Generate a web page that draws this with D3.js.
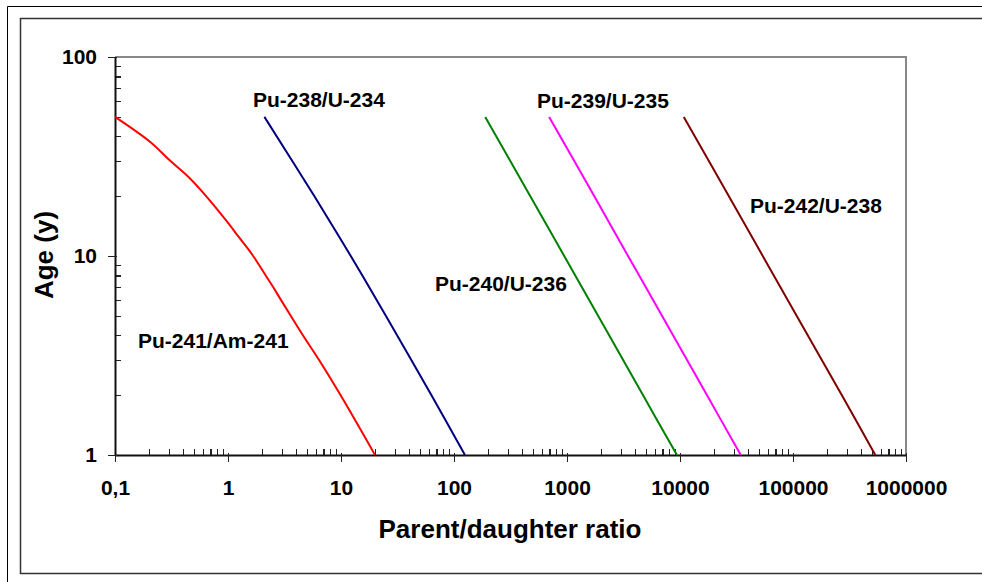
<!DOCTYPE html>
<meta charset="utf-8">
<head>
<style>
body { margin: 0; background: #fff; }
svg { display: block; }
text { font-family: "Liberation Sans", Arial, sans-serif; font-weight: bold; fill: #000; }
.tick text { font-size: 21px; }
.label { font-size: 21px; }
.title { font-size: 26px; }
.curve { fill: none; stroke-width: 2px; stroke-linejoin: round; }
.axis line { stroke: #222; stroke-width: 1.5px; shape-rendering: crispEdges; }
</style>
<script src="https://d3js.org/d3.v7.min.js"></script>
</head>
<body>
<div id="chart"></div>
<script>

// ages (y) for the four straight lines
var ages = [1, 2, 5, 10, 20, 50];
var pu238 = [125, 63, 25, 12.2, 5.8, 2.1];
var pu240 = [9400, 4700, 1890, 945, 472, 189];
var pu239 = [34500, 17300, 6950, 3470, 1740, 695];
var pu242 = [535000, 270000, 108000, 54000, 27000, 10800];

// Pu-241/Am-241 is curved, read point by point
var pu241Age = [1, 2, 3, 4, 5, 6, 7, 8, 10, 12.5, 15, 20, 25, 30, 37.5, 50];
var pu241Ratio = [20, 9.9, 6.4, 4.6, 3.6, 2.95, 2.5, 2.15, 1.67, 1.24, 0.97, 0.64, 0.445, 0.31, 0.204, 0.1];

var xTicks = [0.1, 1, 10, 100, 1000, 10000, 100000, 1000000];
var xTickLabels = ["0,1", "1", "10", "100", "1000", "10000", "100000", "1000000"];
var yTicks = [1, 10, 100];
var yTickLabels = ["1", "10", "100"];

var seriesNames = ["Pu-241/Am-241", "Pu-238/U-234", "Pu-240/U-236", "Pu-239/U-235", "Pu-242/U-238"];
var seriesColors = ["#ff0000", "#000080", "#008000", "#ff00ff", "#800000"];

var W = 982, H = 582;
var plot = {left: 115, right: 906, top: 57, bottom: 455};

var svg = d3.select("#chart").append("svg")
  .attr("width", W)
  .attr("height", H);

// outer frames (screenshot of a framed chart)
svg.append("path")
  .attr("d", "M7.5,582 V6.5 H982")
  .attr("fill", "none").attr("stroke", "#000").attr("stroke-width", 1);
svg.append("path")
  .attr("d", "M982,18.5 H20.5 V573.5 H982")
  .attr("fill", "none").attr("stroke", "#333").attr("stroke-width", 1.5);

var x = d3.scaleLog().domain([0.1, 1000000]).range([plot.left, plot.right]);
var y = d3.scaleLog().domain([1, 100]).range([plot.bottom, plot.top]);

// plot area top/right border
svg.append("path")
  .attr("d", "M" + plot.left + "," + plot.top + " H" + plot.right + " V" + plot.bottom)
  .attr("fill", "none").attr("stroke", "#888").attr("stroke-width", 2);

////Minor ticks (inside)
var xMinor = x.ticks().filter(function(d) { return xTicks.indexOf(d) < 0; });
var yMinor = y.ticks().filter(function(d) { return yTicks.indexOf(d) < 0; });

svg.append("g")
  .attr("class", "axis")
  .attr("transform", "translate(0," + plot.bottom + ")")
  .call(d3.axisBottom(x).tickValues(xMinor).tickSize(-6).tickFormat(""))
  .select(".domain").remove();
svg.append("g")
  .attr("class", "axis")
  .attr("transform", "translate(" + plot.left + ",0)")
  .call(d3.axisLeft(y).tickValues(yMinor).tickSize(-6).tickFormat(""))
  .select(".domain").remove();

////Major ticks + labels
var xAxis = svg.append("g")
  .attr("class", "axis")
  .attr("transform", "translate(0," + plot.bottom + ")")
  .call(d3.axisBottom(x).tickValues(xTicks).tickSizeInner(7).tickSizeOuter(0).tickPadding(18)
    .tickFormat(function(d, i) { return xTickLabels[i]; }));
xAxis.selectAll(".tick line").attr("y1", -2);
xAxis.select(".domain")
  .attr("stroke", "#111").attr("stroke-width", 2);

var yAxis = svg.append("g")
  .attr("class", "axis")
  .attr("transform", "translate(" + plot.left + ",0)")
  .call(d3.axisLeft(y).tickValues(yTicks).tickSizeInner(7).tickSizeOuter(0).tickPadding(11)
    .tickFormat(function(d, i) { return yTickLabels[i]; }));
yAxis.selectAll(".tick line").attr("x1", 2);
yAxis.select(".domain")
  .attr("stroke", "#111").attr("stroke-width", 2);

////Axis titles
svg.append("text")
  .attr("class", "title")
  .attr("x", 510)
  .attr("y", 538)
  .attr("text-anchor", "middle")
  .text("Parent/daughter ratio");
svg.append("text")
  .attr("class", "title")
  .attr("transform", "translate(53,255) rotate(-90)")
  .attr("text-anchor", "middle")
  .text("Age (y)");

////Curves
var series = [
  {ratio: pu241Ratio, age: pu241Age},
  {ratio: pu238, age: ages},
  {ratio: pu240, age: ages},
  {ratio: pu239, age: ages},
  {ratio: pu242, age: ages}
].map(function(s, i) {
  return {
    name: seriesNames[i],
    color: seriesColors[i],
    values: s.ratio.map(function(r, j) { return {ratio: r, age: s.age[j]}; })
  };
});

var line = d3.line()
  .curve(d3.curveCatmullRom.alpha(0.5))
  .x(function(d) { return x(d.ratio); })
  .y(function(d) { return y(d.age); });

svg.selectAll(".curve")
  .data(series)
  .enter()
  .append("path")
    .attr("class", "curve")
    .attr("d", function(d) { return line(d.values); })
    .attr("stroke", function(d) { return d.color; });

////Curve labels
var labelPos = [[138, 348], [253, 107], [435, 291], [537, 108], [750, 213]];
svg.selectAll(".label")
  .data(series)
  .enter()
  .append("text")
    .attr("class", "label")
    .attr("x", function(d, i) { return labelPos[i][0]; })
    .attr("y", function(d, i) { return labelPos[i][1]; })
    .text(function(d) { return d.name; });

</script>
</body>
</html>
